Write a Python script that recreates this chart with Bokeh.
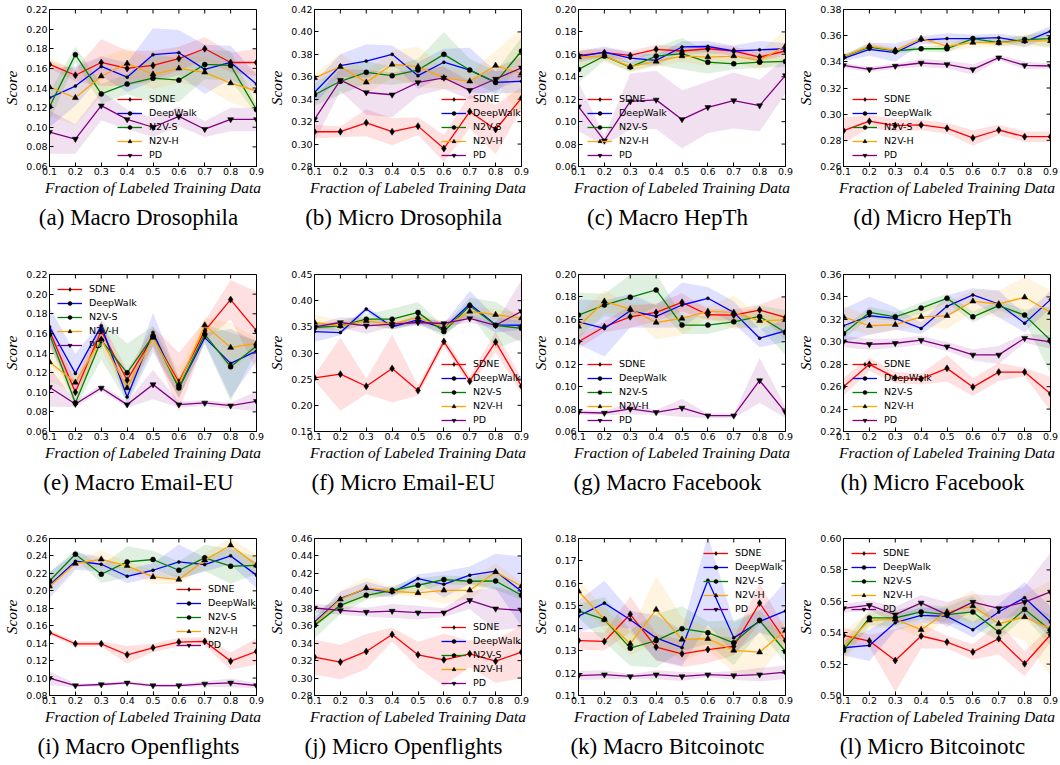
from bokeh.plotting import figure
from bokeh.layouts import column, row
from bokeh.models import Range1d, FixedTicker, PrintfTickFormatter, Legend, LegendItem
from bokeh.embed import file_html
from bokeh.resources import INLINE

# ---------------- data ----------------
FRACTIONS = [0.1, 0.2, 0.3, 0.4, 0.5, 0.6, 0.7, 0.8, 0.9]
METHODS = ["SDNE", "DeepWalk", "N2V-S", "N2V-H", "PD"]
X_LABEL = "Fraction of Labeled Training Data"
Y_LABEL = "Score"

MACRO_DROSOPHILA = {
    "SDNE":     [0.164, 0.153, 0.166, 0.160, 0.163, 0.170, 0.180, 0.166, 0.166],
    "DeepWalk": [0.130, 0.142, 0.162, 0.151, 0.174, 0.176, 0.159, 0.166, 0.144],
    "N2V-S":    [0.121, 0.174, 0.134, 0.144, 0.150, 0.148, 0.164, 0.163, 0.118],
    "N2V-H":    [0.141, 0.130, 0.152, 0.165, 0.154, 0.160, 0.156, 0.145, 0.137],
    "PD":       [0.095, 0.088, 0.122, 0.108, 0.100, 0.111, 0.098, 0.108, 0.108],
}
MACRO_DROSOPHILA_STD = {
    "SDNE":     [0.004, 0.006, 0.024, 0.018, 0.015, 0.012, 0.012, 0.010, 0.014],
    "DeepWalk": [0.030, 0.020, 0.010, 0.015, 0.027, 0.023, 0.025, 0.017, 0.010],
    "N2V-S":    [0.015, 0.008, 0.010, 0.010, 0.025, 0.022, 0.015, 0.015, 0.005],
    "N2V-H":    [0.030, 0.028, 0.020, 0.015, 0.015, 0.015, 0.015, 0.020, 0.020],
    "PD":       [0.022, 0.015, 0.015, 0.010, 0.010, 0.010, 0.008, 0.012, 0.012],
}
MICRO_DROSOPHILA = {
    "SDNE":     [0.311, 0.311, 0.319, 0.311, 0.316, 0.296, 0.329, 0.313, 0.341],
    "DeepWalk": [0.346, 0.370, 0.374, 0.380, 0.361, 0.373, 0.366, 0.355, 0.356],
    "N2V-S":    [0.344, 0.356, 0.364, 0.361, 0.366, 0.380, 0.366, 0.355, 0.383],
    "N2V-H":    [0.359, 0.369, 0.355, 0.371, 0.369, 0.359, 0.356, 0.370, 0.363],
    "PD":       [0.322, 0.357, 0.346, 0.344, 0.355, 0.359, 0.348, 0.358, 0.368],
}
MICRO_DROSOPHILA_STD = {
    "SDNE":     [0.006, 0.005, 0.012, 0.012, 0.008, 0.012, 0.015, 0.022, 0.010],
    "DeepWalk": [0.010, 0.010, 0.015, 0.008, 0.012, 0.012, 0.020, 0.010, 0.010],
    "N2V-S":    [0.010, 0.012, 0.010, 0.008, 0.010, 0.020, 0.010, 0.010, 0.012],
    "N2V-H":    [0.003, 0.012, 0.010, 0.012, 0.018, 0.010, 0.008, 0.013, 0.040],
    "PD":       [0.020, 0.010, 0.020, 0.020, 0.012, 0.010, 0.008, 0.010, 0.010],
}
MACRO_HEPTH = {
    "SDNE":     [0.159, 0.1615, 0.159, 0.1645, 0.163, 0.165, 0.163, 0.1576, 0.163],
    "DeepWalk": [0.158, 0.162, 0.1567, 0.1546, 0.1666, 0.167, 0.163, 0.164, 0.165],
    "N2V-S":    [0.1466, 0.1585, 0.1487, 0.1585, 0.1606, 0.153, 0.1516, 0.153, 0.1537],
    "N2V-H":    [0.1576, 0.1585, 0.149, 0.1537, 0.1585, 0.1576, 0.1585, 0.1546, 0.1675],
    "PD":       [0.1134, 0.083, 0.118, 0.1194, 0.102, 0.1128, 0.1188, 0.1143, 0.1412],
}
MACRO_HEPTH_STD = {
    "SDNE":     [0.004, 0.004, 0.004, 0.004, 0.004, 0.004, 0.004, 0.004, 0.004],
    "DeepWalk": [0.005, 0.005, 0.005, 0.005, 0.005, 0.005, 0.005, 0.008, 0.005],
    "N2V-S":    [0.012, 0.004, 0.004, 0.008, 0.014, 0.010, 0.005, 0.005, 0.005],
    "N2V-H":    [0.008, 0.005, 0.005, 0.005, 0.005, 0.008, 0.006, 0.008, 0.014],
    "PD":       [0.022, 0.004, 0.025, 0.026, 0.026, 0.023, 0.025, 0.023, 0.016],
}
MICRO_HEPTH = {
    "SDNE":     [0.2874, 0.2946, 0.2913, 0.2918, 0.2892, 0.2818, 0.2879, 0.2828, 0.2828],
    "DeepWalk": [0.3427, 0.3496, 0.347, 0.3565, 0.3578, 0.3578, 0.3585, 0.3552, 0.3634],
    "N2V-S":    [0.344, 0.3513, 0.3483, 0.350, 0.350, 0.3578, 0.3547, 0.357, 0.3578],
    "N2V-H":    [0.344, 0.352, 0.3488, 0.3578, 0.352, 0.3547, 0.3547, 0.356, 0.356],
    "PD":       [0.3373, 0.3342, 0.3368, 0.3391, 0.338, 0.3342, 0.3432, 0.3373, 0.3368],
}
MICRO_HEPTH_STD = {
    "SDNE":     [0.010, 0.005, 0.005, 0.004, 0.004, 0.006, 0.004, 0.004, 0.004],
    "DeepWalk": [0.002, 0.005, 0.007, 0.003, 0.004, 0.003, 0.003, 0.004, 0.004],
    "N2V-S":    [0.002, 0.002, 0.002, 0.002, 0.003, 0.002, 0.003, 0.003, 0.007],
    "N2V-H":    [0.002, 0.003, 0.002, 0.002, 0.004, 0.004, 0.003, 0.005, 0.004],
    "PD":       [0.002, 0.002, 0.002, 0.003, 0.003, 0.004, 0.002, 0.003, 0.002],
}
MACRO_EMAIL_EU = {
    "SDNE":     [0.1626, 0.100, 0.1626, 0.1123, 0.1568, 0.1103, 0.1626, 0.1944, 0.1626],
    "DeepWalk": [0.1667, 0.1192, 0.1677, 0.0952, 0.161, 0.1044, 0.1557, 0.1294, 0.142],
    "N2V-S":    [0.159, 0.0891, 0.153, 0.1198, 0.1574, 0.1044, 0.159, 0.126, 0.1472],
    "N2V-H":    [0.1308, 0.110, 0.154, 0.1044, 0.1557, 0.1079, 0.1684, 0.1455, 0.150],
    "PD":       [0.1051, 0.088, 0.1044, 0.0874, 0.1079, 0.0874, 0.0891, 0.0863, 0.0908],
}
MACRO_EMAIL_EU_STD = {
    "SDNE":     [0.010, 0.010, 0.010, 0.010, 0.010, 0.030, 0.010, 0.020, 0.040],
    "DeepWalk": [0.020, 0.020, 0.005, 0.008, 0.020, 0.010, 0.005, 0.035, 0.010],
    "N2V-S":    [0.010, 0.005, 0.020, 0.030, 0.010, 0.010, 0.010, 0.035, 0.005],
    "N2V-H":    [0.020, 0.010, 0.010, 0.010, 0.010, 0.015, 0.008, 0.025, 0.005],
    "PD":       [0.020, 0.003, 0.003, 0.003, 0.015, 0.003, 0.003, 0.003, 0.010],
}
MICRO_EMAIL_EU = {
    "SDNE":     [0.2526, 0.2596, 0.2365, 0.2705, 0.2282, 0.3218, 0.2462, 0.3212, 0.2365],
    "DeepWalk": [0.341, 0.339, 0.384, 0.350, 0.3635, 0.347, 0.3936, 0.3538, 0.353],
    "N2V-S":    [0.3487, 0.352, 0.3647, 0.3647, 0.3776, 0.341, 0.3904, 0.353, 0.347],
    "N2V-H":    [0.3583, 0.352, 0.3615, 0.3551, 0.368, 0.3487, 0.3795, 0.3731, 0.3667],
    "PD":       [0.350, 0.3583, 0.352, 0.3551, 0.3583, 0.3564, 0.366, 0.353, 0.3795],
}
MICRO_EMAIL_EU_STD = {
    "SDNE":     [0.005, 0.070, 0.015, 0.065, 0.010, 0.010, 0.010, 0.020, 0.015],
    "DeepWalk": [0.020, 0.005, 0.005, 0.005, 0.010, 0.010, 0.025, 0.015, 0.008],
    "N2V-S":    [0.005, 0.010, 0.010, 0.020, 0.020, 0.010, 0.015, 0.045, 0.020],
    "N2V-H":    [0.015, 0.010, 0.008, 0.010, 0.010, 0.010, 0.010, 0.010, 0.010],
    "PD":       [0.005, 0.010, 0.015, 0.005, 0.005, 0.005, 0.008, 0.005, 0.060],
}
MACRO_FACEBOOK = {
    "SDNE":     [0.140, 0.1534, 0.1623, 0.1662, 0.1752, 0.1641, 0.1638, 0.1683, 0.1617],
    "DeepWalk": [0.1578, 0.1519, 0.1677, 0.1626, 0.1728, 0.1788, 0.1662, 0.1432, 0.1498],
    "N2V-S":    [0.1638, 0.1728, 0.1797, 0.1862, 0.1549, 0.1549, 0.1578, 0.1626, 0.1483],
    "N2V-H":    [0.1537, 0.1761, 0.1692, 0.1572, 0.1608, 0.1671, 0.1662, 0.1587, 0.1596],
    "PD":       [0.0771, 0.0765, 0.0801, 0.0771, 0.081, 0.0741, 0.0741, 0.1055, 0.0771],
}
MACRO_FACEBOOK_STD = {
    "SDNE":     [0.006, 0.005, 0.010, 0.008, 0.008, 0.005, 0.005, 0.005, 0.020],
    "DeepWalk": [0.020, 0.025, 0.015, 0.010, 0.020, 0.010, 0.010, 0.008, 0.010],
    "N2V-S":    [0.020, 0.010, 0.020, 0.015, 0.008, 0.008, 0.005, 0.010, 0.020],
    "N2V-H":    [0.010, 0.010, 0.005, 0.015, 0.015, 0.005, 0.015, 0.005, 0.005],
    "PD":       [0.002, 0.002, 0.005, 0.002, 0.008, 0.002, 0.002, 0.020, 0.005],
}
MICRO_FACEBOOK = {
    "SDNE":     [0.2599, 0.2799, 0.268, 0.267, 0.2763, 0.2596, 0.273, 0.273, 0.2536],
    "DeepWalk": [0.3143, 0.3232, 0.3208, 0.3119, 0.3316, 0.3418, 0.3337, 0.3166, 0.3376],
    "N2V-S":    [0.3074, 0.3262, 0.3223, 0.3301, 0.3388, 0.3223, 0.3322, 0.3238, 0.3014],
    "N2V-H":    [0.3223, 0.3143, 0.3152, 0.3223, 0.3232, 0.3361, 0.3337, 0.3397, 0.3262],
    "PD":       [0.3002, 0.2978, 0.2987, 0.3014, 0.2957, 0.2883, 0.2883, 0.3032, 0.2999],
}
MICRO_FACEBOOK_STD = {
    "SDNE":     [0.008, 0.006, 0.005, 0.005, 0.012, 0.008, 0.008, 0.004, 0.015],
    "DeepWalk": [0.015, 0.017, 0.010, 0.005, 0.010, 0.006, 0.012, 0.008, 0.008],
    "N2V-S":    [0.005, 0.005, 0.004, 0.005, 0.004, 0.005, 0.004, 0.005, 0.030],
    "N2V-H":    [0.010, 0.008, 0.005, 0.008, 0.012, 0.010, 0.012, 0.018, 0.020],
    "PD":       [0.005, 0.005, 0.004, 0.004, 0.004, 0.005, 0.008, 0.004, 0.006],
}
MACRO_OPENFLIGHTS = {
    "SDNE":     [0.152, 0.1393, 0.1393, 0.1267, 0.1347, 0.1413, 0.142, 0.1194, 0.1305],
    "DeepWalk": [0.2064, 0.234, 0.2305, 0.2167, 0.2236, 0.2332, 0.2301, 0.2401, 0.2179],
    "N2V-S":    [0.2113, 0.242, 0.219, 0.2332, 0.2359, 0.2236, 0.2378, 0.2282, 0.2293],
    "N2V-H":    [0.2052, 0.2313, 0.2362, 0.2286, 0.2159, 0.2129, 0.2351, 0.2523, 0.2293],
    "PD":       [0.0998, 0.0914, 0.0926, 0.0945, 0.0914, 0.0914, 0.0933, 0.0945, 0.0914],
}
MACRO_OPENFLIGHTS_STD = {
    "SDNE":     [0.003, 0.003, 0.003, 0.010, 0.005, 0.005, 0.005, 0.010, 0.015],
    "DeepWalk": [0.015, 0.010, 0.008, 0.008, 0.008, 0.020, 0.008, 0.010, 0.015],
    "N2V-S":    [0.010, 0.005, 0.010, 0.018, 0.010, 0.010, 0.015, 0.020, 0.010],
    "N2V-H":    [0.008, 0.005, 0.010, 0.005, 0.008, 0.005, 0.008, 0.008, 0.012],
    "PD":       [0.008, 0.002, 0.002, 0.002, 0.002, 0.002, 0.003, 0.005, 0.003],
}
MICRO_OPENFLIGHTS = {
    "SDNE":     [0.324, 0.3183, 0.3305, 0.350, 0.3267, 0.3209, 0.3278, 0.3194, 0.3297],
    "DeepWalk": [0.3642, 0.391, 0.4025, 0.3979, 0.414, 0.4075, 0.4179, 0.4225, 0.3995],
    "N2V-S":    [0.3604, 0.3834, 0.3949, 0.4006, 0.4064, 0.4129, 0.411, 0.4113, 0.3949],
    "N2V-H":    [0.3623, 0.3903, 0.4033, 0.3995, 0.3976, 0.4006, 0.4006, 0.4217, 0.4052],
    "PD":       [0.3803, 0.3776, 0.3757, 0.3768, 0.375, 0.375, 0.3891, 0.3795, 0.3776],
}
MICRO_OPENFLIGHTS_STD = {
    "SDNE":     [0.020, 0.020, 0.020, 0.008, 0.015, 0.030, 0.015, 0.025, 0.030],
    "DeepWalk": [0.005, 0.008, 0.008, 0.005, 0.005, 0.015, 0.010, 0.020, 0.040],
    "N2V-S":    [0.015, 0.010, 0.005, 0.005, 0.008, 0.005, 0.005, 0.010, 0.005],
    "N2V-H":    [0.005, 0.010, 0.012, 0.005, 0.005, 0.015, 0.010, 0.010, 0.005],
    "PD":       [0.005, 0.005, 0.005, 0.008, 0.008, 0.005, 0.010, 0.025, 0.020],
}
MACRO_BITCOINOTC = {
    "SDNE":     [0.1345, 0.1341, 0.1462, 0.1316, 0.1286, 0.1305, 0.1319, 0.1512, 0.1345],
    "DeepWalk": [0.1454, 0.1512, 0.1438, 0.1357, 0.1313, 0.1614, 0.1357, 0.143, 0.1477],
    "N2V-S":    [0.1477, 0.1439, 0.1311, 0.1345, 0.1398, 0.138, 0.1335, 0.1435, 0.1296],
    "N2V-H":    [0.1565, 0.1439, 0.1331, 0.1483, 0.135, 0.1353, 0.1301, 0.1293, 0.139],
    "PD":       [0.1189, 0.1193, 0.1185, 0.1193, 0.1185, 0.1193, 0.1189, 0.1193, 0.1204],
}
MACRO_BITCOINOTC_STD = {
    "SDNE":     [0.004, 0.004, 0.008, 0.006, 0.006, 0.006, 0.004, 0.009, 0.005],
    "DeepWalk": [0.007, 0.010, 0.004, 0.010, 0.008, 0.020, 0.007, 0.005, 0.013],
    "N2V-S":    [0.003, 0.010, 0.008, 0.012, 0.010, 0.005, 0.010, 0.005, 0.005],
    "N2V-H":    [0.005, 0.005, 0.005, 0.015, 0.010, 0.005, 0.010, 0.010, 0.005],
    "PD":       [0.002, 0.002, 0.001, 0.002, 0.002, 0.001, 0.002, 0.003, 0.003],
}
MICRO_BITCOINOTC = {
    "SDNE":     [0.5383, 0.5347, 0.5223, 0.5379, 0.534, 0.5277, 0.5362, 0.5202, 0.5387],
    "DeepWalk": [0.5304, 0.5319, 0.5464, 0.551, 0.5504, 0.5419, 0.5532, 0.5623, 0.5468],
    "N2V-S":    [0.5287, 0.5494, 0.5494, 0.5532, 0.5515, 0.5532, 0.5404, 0.5549, 0.5415],
    "N2V-H":    [0.5309, 0.5479, 0.5485, 0.5419, 0.5532, 0.557, 0.5457, 0.550, 0.5426],
    "PD":       [0.5555, 0.5575, 0.5515, 0.559, 0.5515, 0.5595, 0.5555, 0.5595, 0.566],
}
MICRO_BITCOINOTC_STD = {
    "SDNE":     [0.005, 0.004, 0.020, 0.008, 0.004, 0.005, 0.010, 0.008, 0.005],
    "DeepWalk": [0.005, 0.010, 0.005, 0.005, 0.005, 0.005, 0.005, 0.010, 0.010],
    "N2V-S":    [0.005, 0.005, 0.005, 0.005, 0.005, 0.010, 0.005, 0.005, 0.010],
    "N2V-H":    [0.010, 0.005, 0.005, 0.005, 0.005, 0.010, 0.005, 0.015, 0.030],
    "PD":       [0.003, 0.003, 0.005, 0.005, 0.008, 0.005, 0.008, 0.010, 0.025],
}

Y_TICKS = [
    [0.06, 0.08, 0.10, 0.12, 0.14, 0.16, 0.18, 0.20, 0.22],
    [0.28, 0.30, 0.32, 0.34, 0.36, 0.38, 0.40, 0.42],
    [0.06, 0.08, 0.10, 0.12, 0.14, 0.16, 0.18, 0.20],
    [0.26, 0.28, 0.30, 0.32, 0.34, 0.36, 0.38],
    [0.06, 0.08, 0.10, 0.12, 0.14, 0.16, 0.18, 0.20, 0.22],
    [0.15, 0.20, 0.25, 0.30, 0.35, 0.40, 0.45],
    [0.06, 0.08, 0.10, 0.12, 0.14, 0.16, 0.18, 0.20],
    [0.22, 0.24, 0.26, 0.28, 0.30, 0.32, 0.34, 0.36],
    [0.08, 0.10, 0.12, 0.14, 0.16, 0.18, 0.20, 0.22, 0.24, 0.26],
    [0.28, 0.30, 0.32, 0.34, 0.36, 0.38, 0.40, 0.42, 0.44, 0.46],
    [0.11, 0.12, 0.13, 0.14, 0.15, 0.16, 0.17, 0.18],
    [0.50, 0.52, 0.54, 0.56, 0.58, 0.60],
]
CAPTIONS = [
    "(a) Macro Drosophila", "(b) Micro Drosophila", "(c) Macro HepTh", "(d) Micro HepTh",
    "(e) Macro Email-EU", "(f) Micro Email-EU", "(g) Macro Facebook", "(h) Micro Facebook",
    "(i) Macro Openflights", "(j) Micro Openflights", "(k) Macro Bitcoinotc", "(l) Micro Bitcoinotc",
]
MEANS = [MACRO_DROSOPHILA, MICRO_DROSOPHILA, MACRO_HEPTH, MICRO_HEPTH,
         MACRO_EMAIL_EU, MICRO_EMAIL_EU, MACRO_FACEBOOK, MICRO_FACEBOOK,
         MACRO_OPENFLIGHTS, MICRO_OPENFLIGHTS, MACRO_BITCOINOTC, MICRO_BITCOINOTC]
STDS = [MACRO_DROSOPHILA_STD, MICRO_DROSOPHILA_STD, MACRO_HEPTH_STD, MICRO_HEPTH_STD,
        MACRO_EMAIL_EU_STD, MICRO_EMAIL_EU_STD, MACRO_FACEBOOK_STD, MICRO_FACEBOOK_STD,
        MACRO_OPENFLIGHTS_STD, MICRO_OPENFLIGHTS_STD, MACRO_BITCOINOTC_STD, MICRO_BITCOINOTC_STD]

# ---------------- styles / layout ----------------
COLORS = {"SDNE": "#ff0000", "DeepWalk": "#0000ff", "N2V-S": "#008000",
          "N2V-H": "#ffa500", "PD": "#800080"}
MARKERS = {"SDNE": ("diamond", 7), "DeepWalk": ("circle", 3), "N2V-S": ("circle", 5),
           "N2V-H": ("triangle", 6), "PD": ("inverted_triangle", 6)}
# legend (x from frame left, y of legend bottom from frame bottom), screen px
LEGEND_POS = [(68, 6), (127, 6), (9, 6), (9, 6),
              (8, 81), (127, 6), (9, 6), (9, 6),
              (127, 45), (127, 7), (125, 81), (8, 81)]
FRAME_W = 211
FRAME_H = 157
LEFT = 45
COL_WIDTH = [265, 264, 265, 266]
ROW_HEIGHT = [266, 264, 234]
ROW_TOP = [9, 8, 8]
TICK_PX = 4
TICK_FONT = "9.5px"
LABEL_FONT = "Liberation Serif"
CAPTION_PX = 23
CAP_CENTER = 89   # caption centre, px right of the frame's left edge

# Times / Liberation Serif advance widths (1/1000 em), used to centre captions
SERIF_W = {"(": 333, ")": 333, " ": 250, "-": 333, "a": 444, "b": 500, "c": 444,
           "d": 500, "e": 444, "f": 333, "g": 500, "h": 500, "i": 278, "j": 278,
           "k": 500, "l": 278, "m": 778, "n": 500, "o": 500, "p": 500, "r": 333,
           "s": 389, "t": 278, "u": 500, "D": 722, "E": 611, "F": 556, "B": 667,
           "H": 722, "M": 889, "O": 722, "T": 611, "U": 722}


def caption_width(text):
    return sum(SERIF_W.get(ch, 500) for ch in text) / 1000.0 * CAPTION_PX


def make_panel(i):
    r, c = divmod(i, 4)
    yt = Y_TICKS[i]
    W = COL_WIDTH[c]
    H = ROW_HEIGHT[r]
    x0, x1 = FRACTIONS[0], FRACTIONS[-1]
    y0, y1 = yt[0], yt[-1]
    p = figure(width=W, height=H,
               x_range=Range1d(x0, x1), y_range=Range1d(y0, y1),
               output_backend="svg", toolbar_location=None,
               title=CAPTIONS[i], title_location="below",
               min_border_left=LEFT, min_border_right=W - LEFT - FRAME_W,
               min_border_top=ROW_TOP[r], min_border_bottom=H - ROW_TOP[r] - FRAME_H)
    p.background_fill_color = "white"
    p.border_fill_color = "white"
    p.outline_line_color = "black"
    p.outline_line_width = 1
    p.xgrid.visible = False
    p.ygrid.visible = False

    t = p.title
    t.text_font = LABEL_FONT
    t.text_font_size = f"{CAPTION_PX}px"
    t.text_font_style = "normal"
    t.text_color = "black"
    t.align = "left"
    t.offset = CAP_CENTER - caption_width(CAPTIONS[i]) / 2.0
    t.standoff = 9

    xa = p.xaxis[0]
    xa.ticker = FixedTicker(ticks=FRACTIONS)
    xa.formatter = PrintfTickFormatter(format="%.1f")
    xa.axis_label = X_LABEL
    xa.major_label_standoff = 1
    xa.axis_label_standoff = 1
    ya = p.yaxis[0]
    ya.ticker = FixedTicker(ticks=yt)
    ya.formatter = PrintfTickFormatter(format="%.2f")
    ya.axis_label = Y_LABEL
    ya.major_label_standoff = 2
    ya.axis_label_standoff = 3
    for ax in (xa, ya):
        ax.major_tick_in = TICK_PX
        ax.major_tick_out = 0
        ax.minor_tick_line_color = None
        ax.axis_line_color = "black"
        ax.major_tick_line_color = "black"
        ax.major_label_text_font = "DejaVu Sans"
        ax.major_label_text_font_size = TICK_FONT
        ax.major_label_text_color = "black"
        ax.axis_label_text_font = LABEL_FONT
        ax.axis_label_text_font_style = "italic"
        ax.axis_label_text_font_size = "15.5px"
        ax.axis_label_text_color = "black"

    # mirrored inward ticks on top and right edges
    dy = TICK_PX * (y1 - y0) / FRAME_H
    dx = TICK_PX * (x1 - x0) / FRAME_W
    p.segment(x0=FRACTIONS, y0=[y1] * len(FRACTIONS), x1=FRACTIONS,
              y1=[y1 - dy] * len(FRACTIONS), line_color="black", line_width=1)
    p.segment(x0=[x1] * len(yt), y0=yt, x1=[x1 - dx] * len(yt), y1=yt,
              line_color="black", line_width=1)

    means, stds = MEANS[i], STDS[i]
    for m in METHODS:
        lo = [a - s for a, s in zip(means[m], stds[m])]
        hi = [a + s for a, s in zip(means[m], stds[m])]
        p.varea(x=FRACTIONS, y1=lo, y2=hi, fill_color=COLORS[m], fill_alpha=0.12)

    items = []
    for m in METHODS:
        ln = p.line(FRACTIONS, means[m], line_color=COLORS[m], line_width=1.3)
        mk, sz = MARKERS[m]
        sc = p.scatter(FRACTIONS, means[m], marker=mk, size=sz,
                       fill_color="black", line_color="black", line_width=0.5)
        items.append(LegendItem(label=m, renderers=[ln, sc]))

    leg = Legend(items=items, location=LEGEND_POS[i], orientation="vertical",
                 background_fill_alpha=0, border_line_alpha=0,
                 label_text_font="DejaVu Sans", label_text_font_size=TICK_FONT,
                 label_text_color="black",
                 glyph_width=25, glyph_height=10, label_height=10,
                 label_standoff=7, spacing=3, padding=0, margin=0)
    p.add_layout(leg)
    return p


panels = [make_panel(i) for i in range(12)]
layout = column(row(*panels[0:4]), row(*panels[4:8]), row(*panels[8:12]))

open("out.html", "w").write(file_html(layout, INLINE))
